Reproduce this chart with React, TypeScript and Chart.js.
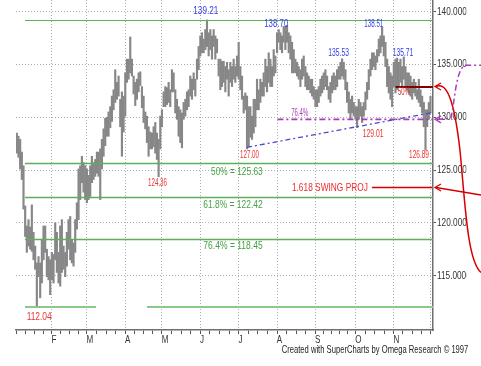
import React, { useEffect, useRef } from 'react';
import { Chart, registerables } from 'chart.js';

Chart.register(...registerables);

// ---- data (one bar per trading session) ----
const barHigh = [
  // Jan
  128.5, 128.2, 127.9, 126.7, 125.4, 121.6, 119.7, 120.3, 119.6, 121.7, 119.1, 117.8, 116.2, 116.8, 116.2, 118.4, 119.7, 119.7, 117.5, 116.8, 116.5,
  // Feb
  117.2, 117.0, 120.0, 119.1, 117.2, 119.7, 120.3, 117.8, 117.2, 119.1, 120.3, 120.6, 118.4, 118.1, 120.3, 121.9, 125.1, 125.4, 126.3, 125.7, 125.4,
  // Mar
  125.1, 124.5, 125.4, 126.3, 125.7, 126.0, 126.7, 126.7, 127.0, 127.9, 128.9, 129.9, 130.0, 130.5, 131.0, 132.0, 132.6, 134.5, 133.3, 133.9, 131.7, 132.4, 132.0,
  // Apr
  134.2, 135.5, 135.5, 137.6, 135.5, 133.9, 133.3, 133.6, 134.2, 134.3, 132.9, 132.0, 130.5, 130.1, 129.1, 128.6, 128.5, 129.1, 129.5, 128.5, 127.9, 130.1,
  // May
  130.7, 132.4, 132.9, 132.8, 133.3, 132.6, 134.5, 134.2, 132.6, 131.7, 131.0, 130.7, 130.4, 131.4, 131.7, 132.4, 132.6, 133.9, 133.6, 134.2, 133.6, 135.5, 136.7,
  // Jun
  137.7, 138.0, 137.4, 138.3, 139.21, 138.0, 138.3, 137.7, 138.3, 137.7, 137.4, 135.5, 135.5, 135.3, 135.3, 134.8, 135.2, 134.5, 135.2, 134.8, 135.5, 134.8, 135.8,
  // Jul
  137.1, 134.8, 133.9, 132.0, 132.3, 132.0, 131.0, 131.0, 130.1, 131.7, 131.7, 133.6, 132.6, 133.6, 133.3, 134.2, 135.5, 134.8, 136.1, 135.5, 134.8, 136.4, 135.8,
  // Aug
  138.0, 138.3, 138.0, 137.7, 138.6, 138.6, 138.7, 138.0, 137.7, 137.1, 136.4, 135.5, 135.2, 134.8, 134.5, 135.5, 135.8, 134.8, 134.2, 133.9, 133.6, 133.6, 132.9,
  // Sep
  132.6, 132.6, 132.9, 133.6, 133.9, 134.2, 134.5, 133.9, 132.9, 133.3, 133.9, 134.2, 133.9, 134.5, 134.8, 135.2, 135.53, 135.2, 134.5, 133.3, 132.4, 131.7, 132.0, 131.4,
  // Oct
  131.0, 131.0, 131.7, 131.4, 131.0, 131.4, 132.4, 133.3, 134.5, 135.5, 136.1, 136.1, 135.8, 136.4, 137.4, 137.7, 138.51, 137.7, 137.1, 135.5, 134.8, 134.2, 133.9,
  // Nov
  135.2, 135.5, 135.6, 135.2, 135.5, 134.8, 135.71, 134.8, 134.2, 134.2, 133.9, 133.3, 133.6, 133.3, 132.6, 133.6, 132.6, 132.0, 131.4, 130.7, 130.7, 131.4,
  // Dec
  132.0,
];

const barLow = [
  // Jan
  126.6, 126.2, 125.1, 124.1, 121.3, 118.7, 117.2, 117.8, 117.5, 117.3, 116.5, 115.6, 112.04, 114.9, 112.9, 114.3, 116.5, 117.2, 114.9, 114.6, 113.2,
  // Feb
  114.6, 114.3, 116.5, 115.3, 114.3, 114.0, 115.3, 115.6, 114.9, 115.9, 117.5, 116.5, 116.2, 115.9, 117.2, 119.4, 120.3, 122.2, 123.8, 122.9, 122.2,
  // Mar
  121.9, 122.2, 122.5, 123.8, 124.1, 124.4, 124.7, 124.4, 122.2, 125.1, 126.3, 127.3, 128.2, 128.2, 129.0, 129.6, 130.7, 131.4, 131.7, 132.0, 129.1, 126.3, 128.6,
  // Apr
  130.1, 133.3, 133.6, 134.2, 133.9, 132.2, 131.1, 131.7, 132.4, 133.0, 130.9, 129.5, 128.9, 127.6, 126.3, 127.0, 127.0, 127.2, 126.6, 126.0, 124.36, 127.0,
  // May
  129.1, 131.0, 131.0, 131.2, 131.4, 131.0, 132.4, 132.4, 130.4, 129.8, 128.2, 127.6, 127.1, 129.8, 130.1, 130.7, 131.0, 132.0, 131.7, 132.6, 132.0, 133.6, 134.5,
  // Jun
  135.8, 136.1, 136.1, 136.4, 136.7, 135.8, 136.4, 135.5, 136.7, 135.5, 136.1, 133.9, 132.6, 132.9, 133.3, 132.4, 133.6, 132.0, 133.3, 132.9, 133.6, 133.3, 133.9,
  // Jul
  133.6, 132.6, 131.7, 130.4, 130.7, 127.0, 127.2, 128.1, 127.9, 128.5, 129.1, 130.7, 130.7, 131.4, 132.0, 132.0, 132.9, 132.4, 133.3, 132.9, 132.9, 133.9, 134.2,
  // Aug
  136.1, 137.1, 136.4, 136.1, 137.1, 136.4, 137.1, 136.1, 135.5, 134.2, 134.2, 134.2, 133.9, 133.6, 132.9, 133.6, 133.9, 132.9, 132.6, 132.6, 132.3, 132.0, 131.7,
  // Sep
  131.0, 131.0, 131.4, 132.0, 132.3, 132.6, 132.9, 132.6, 131.7, 131.4, 132.3, 132.6, 132.6, 132.9, 133.6, 133.6, 133.9, 133.6, 132.6, 131.4, 130.4, 129.8, 130.4, 130.1,
  // Oct
  129.8, 129.01, 129.8, 130.1, 129.5, 130.1, 130.7, 131.7, 132.6, 133.9, 134.5, 134.8, 134.5, 135.2, 135.8, 136.1, 136.7, 135.8, 134.8, 132.9, 132.3, 131.7, 131.0,
  // Nov
  132.9, 132.3, 132.6, 132.9, 133.3, 132.9, 133.6, 132.9, 132.6, 132.3, 132.0, 131.7, 132.3, 132.0, 131.7, 131.4, 131.0, 130.4, 129.1, 126.89, 129.1, 129.8,
  // Dec
  130.4,
];

const monthStartIdx = [21, 42, 65, 87, 110, 133, 156, 179, 203, 226, 248];
const monthLabels = ['F', 'M', 'A', 'M', 'J', 'J', 'A', 'S', 'O', 'N', ''];
const yTickValues = [115, 120, 125, 130, 135, 140];

const fibLevels = [139.21, 125.63, 122.42, 118.45, 112.04];
const fibTexts = ['', '50% = 125.63', '61.8% = 122.42', '76.4% = 118.45', ''];

const highLabelIdx = [114, 162, 195, 219, 232];
const highLabelText = ['139.21', '138.70', '135.53', '138.51', '135.71'];
const lowLabelIdx = [12, 85, 138, 204, 245];
const lowLabelText = ['112.04', '124.36', '127.00', '129.01', '126.89'];

const retrace50Level = 132.9;
const retrace764Level = 129.8;
const swingProjLevel = 123.36;
const trendStartIdx = 138;
const trendStartPrice = 127.15;
const trendEndPrice = 130.45;

const footerText = 'Created with SuperCharts by Omega Research \u00A9 1997';

// ---- drawing helpers ----
const FONT = '"Liberation Sans", Arial, sans-serif';

function fitText(ctx: CanvasRenderingContext2D, text: string, cx: number, cy: number, size: number, width: number, color: string, align: CanvasTextAlign = 'center') {
  ctx.save();
  ctx.font = `${size}px ${FONT}`;
  const w = ctx.measureText(text).width || 1;
  ctx.translate(cx, cy);
  ctx.scale(width / w, 1);
  ctx.fillStyle = color;
  ctx.textAlign = align;
  ctx.textBaseline = 'middle';
  ctx.fillText(text, 0, 0);
  ctx.restore();
}

function squeezeText(ctx: CanvasRenderingContext2D, text: string, x: number, cy: number, size: number, sx: number, color: string, align: CanvasTextAlign = 'left') {
  ctx.save();
  ctx.font = `${size}px ${FONT}`;
  ctx.translate(x, cy);
  ctx.scale(sx, 1);
  ctx.fillStyle = color;
  ctx.textAlign = align;
  ctx.textBaseline = 'middle';
  ctx.fillText(text, 0, 0);
  ctx.restore();
}

function hLine(ctx: CanvasRenderingContext2D, x1: number, x2: number, y: number, color: string, w: number, dash: number[] = []) {
  ctx.save();
  ctx.strokeStyle = color;
  ctx.lineWidth = w;
  ctx.setLineDash(dash);
  ctx.beginPath();
  ctx.moveTo(x1, y);
  ctx.lineTo(x2, y);
  ctx.stroke();
  ctx.restore();
}

function arrowLeft(ctx: CanvasRenderingContext2D, x: number, y: number, color: string) {
  ctx.save();
  ctx.strokeStyle = color;
  ctx.lineWidth = 1.3;
  ctx.beginPath();
  ctx.moveTo(x + 6, y - 3.5);
  ctx.lineTo(x, y);
  ctx.lineTo(x + 6, y + 3.5);
  ctx.stroke();
  ctx.restore();
}

const monthSet = new Set(monthStartIdx);

function buildWeekTicks(): number[] {
  const bounds = [0, ...monthStartIdx];
  const out: number[] = [];
  for (let m = 0; m < bounds.length - 1; m++) {
    const s = bounds[m];
    const e = bounds[m + 1];
    const n = Math.max(1, Math.round((e - s) / 5.2));
    for (let k = 0; k < n; k++) out.push(k === 0 ? s : s + (k * (e - s)) / n);
  }
  out.push(monthStartIdx[monthStartIdx.length - 1]);
  return out;
}
const weekTicks = buildWeekTicks();

const omegaPlugin = {
  id: 'omegaAnnotations',
  afterDatasetsDraw(chart: any) {
    const { ctx, chartArea, scales } = chart;
    const xs = scales.x;
    const ys = scales.y;
    const X = (i: number) => xs.getPixelForValue(i);
    const Y = (p: number) => ys.getPixelForValue(p);
    const R = chartArea.right;
    const W = chart.width;

    // Fibonacci levels
    const fibStart = X(4.9);
    const fibColor = 'rgb(92,176,92)';
    for (let k = 0; k < 4; k++) {
      hLine(ctx, fibStart, R, Math.round(Y(fibLevels[k])) + 0.5, fibColor, k === 0 ? 1.2 : 1.6);
    }
    const lowY = Math.round(Y(fibLevels[4]));
    hLine(ctx, fibStart, X(47.5), lowY, 'rgb(140,200,140)', 2.2);
    hLine(ctx, X(78), R, lowY, 'rgb(140,200,140)', 2.2);

    const fibTextPos = [[0, 0], [131.9, 9], [129.6, 7.7], [129.6, 6.8]];
    const fibTextW = [0, 51.7, 59.3, 59.3];
    for (let k = 1; k < 4; k++) {
      fitText(ctx, fibTexts[k], X(fibTextPos[k][0]), Y(fibLevels[k]) + fibTextPos[k][1], 11, fibTextW[k], 'rgb(70,160,70)');
    }

    // trend line (blue dash-dot)
    ctx.save();
    ctx.strokeStyle = 'rgb(80,70,200)';
    ctx.lineWidth = 1.3;
    ctx.setLineDash([5, 3, 2, 3]);
    ctx.beginPath();
    ctx.moveTo(X(trendStartIdx), Y(trendStartPrice));
    ctx.lineTo(R, Y(trendEndPrice));
    ctx.stroke();
    ctx.restore();

    // 76.4% retracement (purple dash-dot)
    const purple = 'rgb(165,60,185)';
    const yp = Y(retrace764Level);
    hLine(ctx, X(156.2), R, yp, purple, 1.6, [6, 3, 2, 3]);
    fitText(ctx, '76.4%', X(169.6), yp - 6, 10, 17, purple);

    // 50% retracement (dark red)
    const y50 = Math.round(Y(retrace50Level));
    hLine(ctx, X(227), R, y50, 'rgb(130,0,0)', 2);
    fitText(ctx, '50%', X(232.1), y50 + 5, 10, 12, 'rgb(200,45,45)');

    // swing projection
    const red = 'rgb(215,0,0)';
    const ys1 = Math.round(Y(swingProjLevel)) + 0.5;
    fitText(ctx, '1.618 SWING PROJ', X(187.7), ys1, 11, 76, 'rgb(240,40,40)');
    hLine(ctx, X(212.9), R - 1, ys1, red, 1.5);

    // high / low labels
    const hiOff = [[-1.2, -9.3, 11, 25], [-10.8, -1, 10, 24], [-3.4, -5.5, 10, 20.7], [-8.3, -3.1, 10, 19], [-0.8, -3.6, 10, 20.7]];
    for (let k = 0; k < highLabelIdx.length; k++) {
      const o = hiOff[k];
      fitText(ctx, highLabelText[k], X(highLabelIdx[k]) + o[0], Y(parseFloat(highLabelText[k])) + o[1], o[2], o[3], 'rgb(50,60,235)');
    }
    const loOff = [[2.3, 9.8, 11, 25], [-1.1, 6.5, 10, 19], [2.5, 6.8, 10, 19], [16, 6.6, 10, 20.7], [-6.5, 5.6, 10, 20]];
    for (let k = 0; k < lowLabelIdx.length; k++) {
      const o = loOff[k];
      fitText(ctx, lowLabelText[k], X(lowLabelIdx[k]) + o[0], Y(parseFloat(lowLabelText[k])) + o[1], o[2], o[3], 'rgb(235,50,50)');
    }

    // ---- outside the plot, right of the price axis ----
    // y tick labels (clipped like the original)
    ctx.save();
    ctx.beginPath();
    ctx.rect(R, 0, 466.5 - R, chart.height);
    ctx.clip();
    for (const v of yTickValues) {
      squeezeText(ctx, v.toFixed(4), R + 4, Y(v), 11, 0.75, '#333');
    }
    ctx.restore();

    // red curved arrow from the 50% level
    arrowLeft(ctx, R + 2, y50 - 0.5, red);
    ctx.save();
    ctx.strokeStyle = red;
    ctx.lineWidth = 1.5;
    ctx.beginPath();
    ctx.moveTo(R + 3, y50 - 0.5);
    ctx.bezierCurveTo(R + 15, y50 - 6.5, R + 22, y50 + 19.5, R + 27, y50 + 63.5);
    ctx.bezierCurveTo(R + 32, y50 + 113.5, R + 34, y50 + 173.5, W, y50 + 185.5);
    ctx.stroke();
    ctx.restore();

    // red straight arrow at the swing projection
    arrowLeft(ctx, R + 2, ys1, red);
    ctx.save();
    ctx.strokeStyle = red;
    ctx.lineWidth = 1.5;
    ctx.beginPath();
    ctx.moveTo(R + 3, ys1);
    ctx.lineTo(W, ys1 + 7.5);
    ctx.stroke();
    ctx.restore();

    // purple dash-dot arrow at the 76.4% level
    arrowLeft(ctx, R + 2, yp, purple);
    ctx.save();
    ctx.strokeStyle = purple;
    ctx.lineWidth = 1.5;
    ctx.setLineDash([6, 3, 2, 3]);
    ctx.beginPath();
    ctx.moveTo(R + 4, yp);
    ctx.lineTo(R + 18, yp - 1);
    ctx.bezierCurveTo(R + 22, yp - 20, R + 23, yp - 50, R + 32, yp - 54);
    ctx.lineTo(W, yp - 54);
    ctx.stroke();
    ctx.restore();

    // month letters
    for (let k = 0; k < monthStartIdx.length; k++) {
      if (!monthLabels[k]) continue;
      squeezeText(ctx, monthLabels[k], X(monthStartIdx[k]) - 0.3, chartArea.bottom + 9.5, 11, 0.73, '#333');
    }

    // footer
    fitText(ctx, footerText, 375, chart.height - 16, 11, 186.7, '#222');
  },
};

export default function App() {
  const ref = useRef<HTMLCanvasElement | null>(null);

  useEffect(() => {
    if (!ref.current) return;
    const n = Math.min(barHigh.length, barLow.length);
    const points = [];
    for (let i = 0; i < n; i++) points.push({ x: i, y: [barLow[i], barHigh[i]] });

    const chart = new Chart(ref.current, {
      type: 'bar',
      data: {
        datasets: [
          {
            data: points as any,
            backgroundColor: 'rgb(135,135,135)',
            borderWidth: 0,
            barThickness: 1.5,
            grouped: false,
          } as any,
        ],
      },
      options: {
        animation: false,
        responsive: false,
        events: [],
        layout: { padding: { left: 16, top: 0, right: 0, bottom: 0 } },
        plugins: { legend: { display: false }, tooltip: { enabled: false } },
        scales: {
          x: {
            type: 'linear',
            min: -0.5,
            max: 249.5,
            offset: false,
            afterBuildTicks: (s: any) => {
              s.ticks = weekTicks.map((v) => ({ value: v }));
            },
            afterFit: (s: any) => {
              s.height = 36;
            },
            ticks: { display: false },
            grid: {
              offset: false,
              color: (c: any) => (c.tick && monthSet.has(c.tick.value) ? 'rgb(175,175,175)' : 'rgba(0,0,0,0)'),
              tickColor: '#555',
              tickLength: 4,
              lineWidth: 1,
            },
            border: { display: true, color: '#6e6e6e', width: 1.5, dash: [1, 2] },
          },
          y: {
            type: 'linear',
            position: 'right',
            min: 109.85,
            max: 141.1,
            afterBuildTicks: (s: any) => {
              s.ticks = yTickValues.map((v) => ({ value: v }));
            },
            afterFit: (s: any) => {
              s.width = 48;
            },
            ticks: { display: false },
            grid: { color: 'rgb(175,175,175)', tickColor: '#555', tickLength: 3, lineWidth: 1 },
            border: { display: true, color: '#6e6e6e', width: 1.5, dash: [1, 2] },
          },
        },
      },
      plugins: [omegaPlugin],
    } as any);

    return () => chart.destroy();
  }, []);

  return (
    <div style={{ position: 'absolute', left: 0, top: 0, width: 481, height: 366, background: '#fff' }}>
      <canvas ref={ref} width={481} height={366} style={{ display: 'block', width: 481, height: 366 }} />
    </div>
  );
}
